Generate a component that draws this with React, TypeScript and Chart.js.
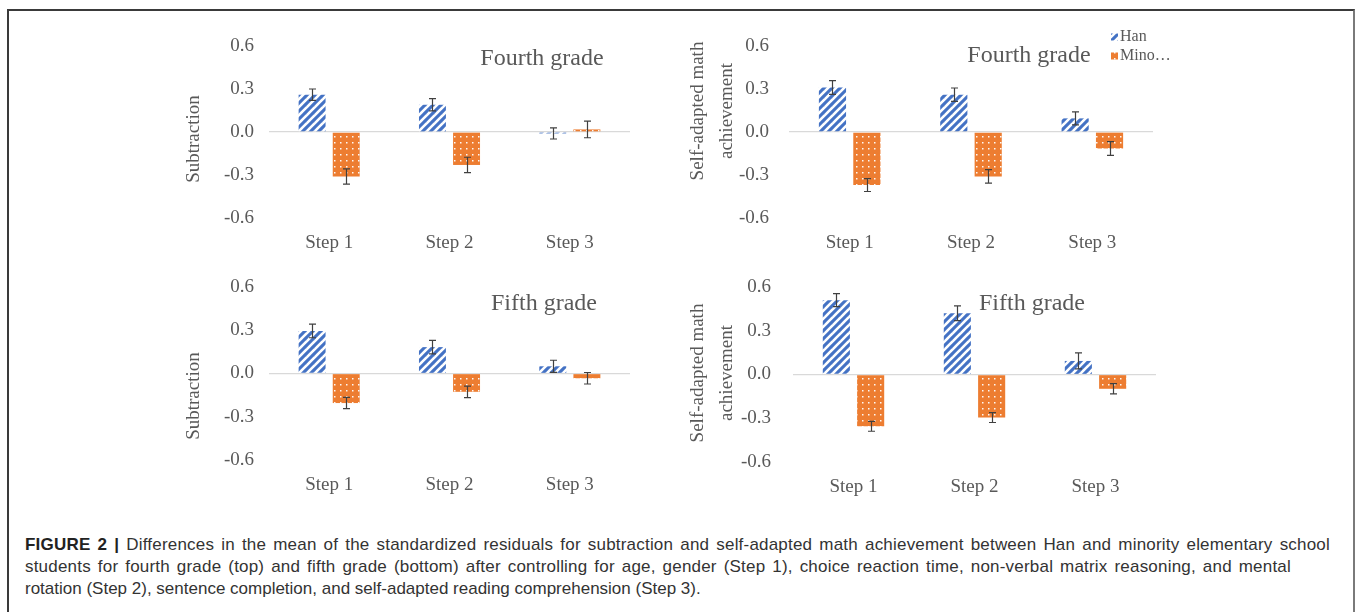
import React, { useEffect, useRef } from "react";
import { Chart, registerables } from "chart.js";

Chart.register(...registerables);

// ---------------- data ----------------
const steps = ["Step 1", "Step 2", "Step 3"];
const yTickValues = [-0.6, -0.3, 0, 0.3, 0.6];
const seriesNames = ["Han", "Minority"];
const legendLabels = ["Han", "Mino…"];

const fourthSubtractionHan = [0.26, 0.19, -0.01];
const fourthSubtractionHanErr = [0.04, 0.043, 0.039];
const fourthSubtractionMin = [-0.31, -0.23, 0.018];
const fourthSubtractionMinErr = [0.053, 0.054, 0.058];

const fourthSelfHan = [0.31, 0.26, 0.095];
const fourthSelfHanErr = [0.048, 0.047, 0.045];
const fourthSelfMin = [-0.37, -0.31, -0.115];
const fourthSelfMinErr = [0.045, 0.047, 0.048];

const fifthSubtractionHan = [0.295, 0.183, 0.05];
const fifthSubtractionHanErr = [0.047, 0.047, 0.042];
const fifthSubtractionMin = [-0.205, -0.127, -0.033];
const fifthSubtractionMinErr = [0.039, 0.04, 0.04];

const fifthSelfHan = [0.51, 0.42, 0.093];
const fifthSelfHanErr = [0.045, 0.05, 0.055];
const fifthSelfMin = [-0.355, -0.295, -0.098];
const fifthSelfMinErr = [0.034, 0.034, 0.035];

const captionBold = "FIGURE 2 |";
const captionLines = [
  " Differences in the mean of the standardized residuals for subtraction and self-adapted math achievement between Han and minority elementary school",
  "students for fourth grade (top) and fifth grade (bottom) after controlling for age, gender (Step 1), choice reaction time, non-verbal matrix reasoning, and mental",
  "rotation (Step 2), sentence completion, and self-adapted reading comprehension (Step 3).",
];

// ---------------- styles ----------------
const HAN_COLOR = "#4472C4";
const MIN_COLOR = "#ED7D31";
const TEXT_COLOR = "#595959";
const SERIF = "'Liberation Serif', 'Times New Roman', serif";
const captionWidths = [1305, 1266, 0];

type PanelCfg = {
  key: string;
  canvas: { left: number; top: number; w: number; h: number };
  area: { l: number; t: number; r: number; b: number };
  tickPad: number;
  han: number[];
  hanErr: number[];
  min: number[];
  minErr: number[];
  title: string;
  titleCenter: [number, number];
  yTitle: string[];
  yTitleX: number[];
  yTitleY: number;
  legend: boolean;
};

const panels: PanelCfg[] = [
  {
    key: "tl",
    canvas: { left: 170, top: 20, w: 470, h: 240 },
    area: { l: 269, t: 46, r: 630, b: 218 },
    tickPad: 15,
    han: fourthSubtractionHan,
    hanErr: fourthSubtractionHanErr,
    min: fourthSubtractionMin,
    minErr: fourthSubtractionMinErr,
    title: "Fourth grade",
    titleCenter: [542, 59],
    yTitle: ["Subtraction"],
    yTitleX: [194],
    yTitleY: 139,
    legend: false,
  },
  {
    key: "tr",
    canvas: { left: 680, top: 20, w: 500, h: 240 },
    area: { l: 789, t: 46, r: 1153, b: 218 },
    tickPad: 20,
    han: fourthSelfHan,
    hanErr: fourthSelfHanErr,
    min: fourthSelfMin,
    minErr: fourthSelfMinErr,
    title: "Fourth grade",
    titleCenter: [1029, 56],
    yTitle: ["Self-adapted math", "achievement"],
    yTitleX: [698, 727],
    yTitleY: 111,
    legend: true,
  },
  {
    key: "bl",
    canvas: { left: 170, top: 262, w: 470, h: 240 },
    area: { l: 269, t: 287, r: 630, b: 460 },
    tickPad: 15,
    han: fifthSubtractionHan,
    hanErr: fifthSubtractionHanErr,
    min: fifthSubtractionMin,
    minErr: fifthSubtractionMinErr,
    title: "Fifth grade",
    titleCenter: [544, 304],
    yTitle: ["Subtraction"],
    yTitleX: [194],
    yTitleY: 396,
    legend: false,
  },
  {
    key: "br",
    canvas: { left: 680, top: 262, w: 500, h: 240 },
    area: { l: 793, t: 287, r: 1156, b: 462 },
    tickPad: 22,
    han: fifthSelfHan,
    hanErr: fifthSelfHanErr,
    min: fifthSelfMin,
    minErr: fifthSelfMinErr,
    title: "Fifth grade",
    titleCenter: [1032, 304],
    yTitle: ["Self-adapted math", "achievement"],
    yTitleX: [698, 727],
    yTitleY: 373,
    legend: false,
  },
];

function makeStripePattern(): CanvasPattern | string {
  const c = document.createElement("canvas");
  c.width = 8;
  c.height = 8;
  const g = c.getContext("2d");
  if (!g) return HAN_COLOR;
  g.fillStyle = HAN_COLOR;
  g.fillRect(0, 0, 8, 8);
  g.strokeStyle = "#ffffff";
  g.lineWidth = 2.6;
  g.lineCap = "square";
  for (const off of [-8, 0, 8]) {
    g.beginPath();
    g.moveTo(off - 1, 9);
    g.lineTo(off + 9, -1);
    g.stroke();
  }
  return g.createPattern(c, "repeat") || HAN_COLOR;
}

function makeDotPattern(): CanvasPattern | string {
  const c = document.createElement("canvas");
  c.width = 6;
  c.height = 6;
  const g = c.getContext("2d");
  if (!g) return MIN_COLOR;
  g.fillStyle = MIN_COLOR;
  g.fillRect(0, 0, 6, 6);
  g.fillStyle = "rgba(255,255,255,0.95)";
  g.fillRect(2, 2, 1.5, 1.5);
  return g.createPattern(c, "repeat") || MIN_COLOR;
}

const errorBarsPlugin = {
  id: "errorBars",
  afterDatasetsDraw(chart: any) {
    const ctx = chart.ctx;
    const yScale = chart.scales.y;
    ctx.save();
    ctx.strokeStyle = "#404040";
    ctx.lineWidth = 1.2;
    chart.data.datasets.forEach((ds: any, i: number) => {
      const meta = chart.getDatasetMeta(i);
      meta.data.forEach((el: any, j: number) => {
        const v = ds.data[j];
        const e = ds.errors[j];
        const x = Math.round(el.x) + 0.5;
        const y1 = yScale.getPixelForValue(v + e);
        const y2 = yScale.getPixelForValue(v - e);
        ctx.beginPath();
        ctx.moveTo(x, y1);
        ctx.lineTo(x, y2);
        ctx.moveTo(x - 3.5, y1);
        ctx.lineTo(x + 3.5, y1);
        ctx.moveTo(x - 3.5, y2);
        ctx.lineTo(x + 3.5, y2);
        ctx.stroke();
      });
    });
    ctx.restore();
  },
};

function makeDecoPlugin(p: PanelCfg, fills: any[]) {
  const ox = p.canvas.left;
  const oy = p.canvas.top;
  return {
    id: "deco",
    afterDraw(chart: any) {
      const ctx = chart.ctx;
      ctx.save();
      ctx.fillStyle = TEXT_COLOR;
      // chart title
      ctx.font = `24px ${SERIF}`;
      ctx.textAlign = "center";
      ctx.textBaseline = "middle";
      ctx.fillText(p.title, p.titleCenter[0] - ox, p.titleCenter[1] - oy);
      // y axis title
      ctx.font = `19px ${SERIF}`;
      p.yTitle.forEach((line, k) => {
        ctx.save();
        ctx.translate(p.yTitleX[k] - ox, p.yTitleY - oy);
        ctx.rotate(-Math.PI / 2);
        ctx.fillText(line, 0, 0);
        ctx.restore();
      });
      // legend
      if (p.legend) {
        ctx.font = `16px ${SERIF}`;
        ctx.textAlign = "left";
        legendLabels.forEach((lab, k) => {
          const cy = 37 + k * 19 - oy;
          const bx = 1111 - ox;
          ctx.fillStyle = fills[k];
          ctx.fillRect(bx, cy - 3.5, 7, 7);
          ctx.fillStyle = TEXT_COLOR;
          ctx.fillText(lab, 1120 - ox, cy);
        });
      }
      ctx.restore();
    },
  };
}

function Panel({ p }: { p: PanelCfg }) {
  const ref = useRef<HTMLCanvasElement | null>(null);
  useEffect(() => {
    const canvas = ref.current;
    if (!canvas) return;
    const stripe = makeStripePattern();
    const dots = makeDotPattern();
    const Y_W = 70;
    const X_H = 40;
    const left = p.area.l - p.canvas.left;
    const top = p.area.t - p.canvas.top;
    const right = p.area.r - p.canvas.left;
    const bottom = p.area.b - p.canvas.top;
    const chart = new Chart(canvas, {
      type: "bar",
      data: {
        labels: steps,
        datasets: [
          {
            label: seriesNames[0],
            data: p.han,
            errors: p.hanErr,
            backgroundColor: stripe,
            borderWidth: 0,
            categoryPercentage: 0.567,
            barPercentage: 0.79,
          } as any,
          {
            label: seriesNames[1],
            data: p.min,
            errors: p.minErr,
            backgroundColor: dots,
            borderWidth: 0,
            categoryPercentage: 0.567,
            barPercentage: 0.79,
          } as any,
        ],
      },
      options: {
        responsive: false,
        animation: false,
        devicePixelRatio: 1,
        layout: {
          padding: {
            left: left - Y_W,
            top: top,
            right: p.canvas.w - right,
            bottom: p.canvas.h - bottom - X_H,
          },
        },
        plugins: {
          legend: { display: false },
          tooltip: { enabled: false },
          title: { display: false },
        },
        scales: {
          x: {
            grid: { display: false, drawTicks: false },
            border: { display: false },
            ticks: {
              color: TEXT_COLOR,
              font: { family: SERIF, size: 19 },
              padding: 14,
            },
            afterFit: (s: any) => {
              s.height = X_H;
            },
          },
          y: {
            min: -0.6,
            max: 0.6,
            afterBuildTicks: (s: any) => {
              s.ticks = yTickValues.map((v) => ({ value: v }));
            },
            ticks: {
              color: TEXT_COLOR,
              font: { family: SERIF, size: 19 },
              padding: 0,
              callback: (v: any) => Number(v).toFixed(1),
            },
            grid: {
              drawTicks: true,
              tickLength: p.tickPad,
              tickColor: "rgba(0,0,0,0)",
              lineWidth: 1.3,
              color: (c: any) =>
                c.tick && Math.abs(c.tick.value) < 1e-9 ? "#D9D9D9" : "rgba(0,0,0,0)",
            },
            border: { display: false },
            afterFit: (s: any) => {
              s.width = Y_W;
            },
          },
        },
      } as any,
      plugins: [errorBarsPlugin, makeDecoPlugin(p, [stripe, dots])],
    });
    return () => chart.destroy();
  }, [p]);
  return (
    <canvas
      ref={ref}
      width={p.canvas.w}
      height={p.canvas.h}
      style={{
        position: "absolute",
        left: p.canvas.left,
        top: p.canvas.top,
        width: p.canvas.w,
        height: p.canvas.h,
      }}
    />
  );
}

export default function App() {
  return (
    <div
      style={{
        position: "absolute",
        left: 0,
        top: 0,
        width: 1360,
        height: 612,
        background: "#ffffff",
        overflow: "hidden",
      }}
    >
      <div
        style={{
          position: "absolute",
          left: 7,
          top: 9,
          width: 1344,
          height: 640,
          borderTop: "2px solid #3a3a3a",
          borderLeft: "2px solid #3a3a3a",
          borderRight: "2px solid #7a7a7a",
        }}
      />
      {panels.map((p) => (
        <Panel key={p.key} p={p} />
      ))}
      <div
        style={{
          position: "absolute",
          left: 25,
          top: 534,
          fontFamily: "'Liberation Sans', Arial, sans-serif",
          fontSize: 17,
          lineHeight: "22px",
          color: "#333333",
          whiteSpace: "nowrap",
        }}
      >
        {captionLines.map((line, i) => (
          <div
            key={i}
            style={
              captionWidths[i]
                ? {
                    width: captionWidths[i],
                    letterSpacing: "0.2px",
                    textAlign: "justify",
                    textAlignLast: "justify" as any,
                  }
                : {}
            }
          >
            {i === 0 ? <b style={{ color: "#222" }}>{captionBold}</b> : null}
            {line}
          </div>
        ))}
      </div>
    </div>
  );
}
